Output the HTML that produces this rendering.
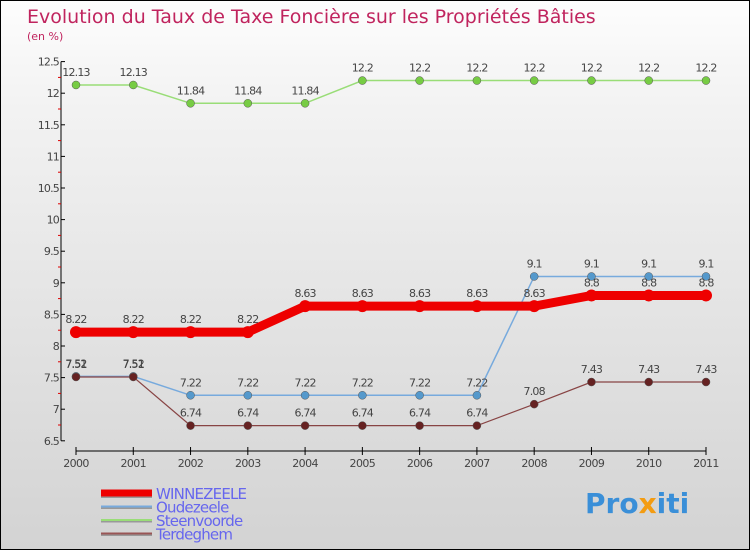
<!DOCTYPE html>
<html><head><meta charset="utf-8"><style>
body{margin:0}
#c{width:750px;height:550px;position:relative;overflow:hidden;box-sizing:border-box;border:1px solid #000;background:linear-gradient(#fdfdfd,#f2f2f2 20%,#d3d3d3);font-family:"DejaVu Sans","Liberation Sans",sans-serif}
svg{position:absolute;left:0;top:0}
</style></head><body>
<div id="c">
<svg id="s" width="750" height="550">
<text x="26" y="22" font-size="19" fill="#c0245e">Evolution du Taux de Taxe Foncière sur les Propriétés Bâties</text>
<text x="26" y="39" font-size="11" fill="#c0245e">(en %)</text>
</svg>
<div style="position:absolute;left:584px;top:486px;font:bold 28px 'DejaVu Sans',sans-serif;color:#3a8fd8">Pro<span style="color:#f39c12">x</span>iti</div>
</div>
<script>
const years=[2000,2001,2002,2003,2004,2005,2006,2007,2008,2009,2010,2011];
const yTicks=[6.5,7,7.5,8,8.5,9,9.5,10,10.5,11,11.5,12,12.5];
const winnezeele=[8.22,8.22,8.22,8.22,8.63,8.63,8.63,8.63,8.63,8.8,8.8,8.8];
const oudezeele=[7.52,7.52,7.22,7.22,7.22,7.22,7.22,7.22,9.1,9.1,9.1,9.1];
const steenvoorde=[12.13,12.13,11.84,11.84,11.84,12.2,12.2,12.2,12.2,12.2,12.2,12.2];
const terdeghem=[7.51,7.51,6.74,6.74,6.74,6.74,6.74,6.74,7.08,7.43,7.43,7.43];
const names=["WINNEZEELE","Oudezeele","Steenvoorde","Terdeghem"];
const NS="http://www.w3.org/2000/svg",s=document.getElementById('s');
const X=i=>75+i*(705-75)/(years.length-1);
const Y=v=>345-(v-8)*63.2;
function mk(t,a,p){const e=document.createElementNS(NS,t);for(const k in a)e.setAttribute(k,a[k]);(p||s).appendChild(e);return e;}
// axes
let ax=mk('line',{x1:60,y1:Y(12.5),x2:60,y2:Y(6.5),stroke:'#000'});


yTicks.forEach((v,i)=>{
 mk('line',{x1:60,x2:64,y1:Y(v),y2:Y(v),stroke:'#000'});
 if(i<yTicks.length-1)mk('line',{x1:57,x2:60,y1:Y(v+0.25),y2:Y(v+0.25),stroke:'#d00'});
 const t=mk('text',{x:58,y:Y(v)+4,'font-size':11,fill:'#444','text-anchor':'end','letter-spacing':'-0.8'});t.textContent=v;
 
 
});
let xa=mk('line',{x1:X(0),x2:X(11),y1:450,y2:450,stroke:'#000'});


years.forEach((y,i)=>{
 mk('line',{x1:X(i),x2:X(i),y1:446,y2:454,stroke:'#000'});
 const t=mk('text',{x:X(i),y:466,'font-size':11,fill:'#444','text-anchor':'middle','letter-spacing':'-0.6'});t.textContent=y;
 
 
});
const series=[[steenvoorde,'#99dd77','#77cc44',1.5,4],[oudezeele,'#77aadd','#5599cc',1.5,4],[terdeghem,'#884444','#662222',1.2,4],[winnezeele,'#ee0000','#ee0000',9,6]];
const slug=['steenvoorde','oudezeele','terdeghem','winnezeele'];
series.forEach((sr,k)=>{
 const [d,lc,pc,w,r]=sr;
 const g=mk('g',{});
 
 
 mk('polyline',{points:d.map((v,i)=>X(i)+','+Y(v)).join(' '),fill:'none',stroke:lc,'stroke-width':w},g);
 d.forEach((v,i)=>{
  const c=mk('circle',{cx:X(i),cy:Y(v),r:r,fill:pc,stroke:k==3?'none':'#555','stroke-width':0.5},g);
  
  
  const t=mk('text',{x:X(i),y:Y(v)-9,'font-size':11,fill:'#444','text-anchor':'middle','letter-spacing':'-0.8'},g);t.textContent=v;
  
  
 });
});
// legend
const lcols=['#ee0000','#77aadd','#99dd77','#995555'],lw=[7,2,2,2];
names.forEach((n,i)=>{
 const y=492+i*13.5;
 const g=mk('g',{});
 
 
 mk('line',{x1:100,x2:151,y1:y+1.5,y2:y+1.5,stroke:'#999','stroke-width':lw[i]},g);
 mk('line',{x1:100,x2:151,y1:y,y2:y,stroke:lcols[i],'stroke-width':lw[i]},g);
 const t=mk('text',{x:155,y:y+6,'font-size':15,fill:'#6666ee','letter-spacing':'-0.8'},g);t.textContent=n;
});
</script>
</body></html>
